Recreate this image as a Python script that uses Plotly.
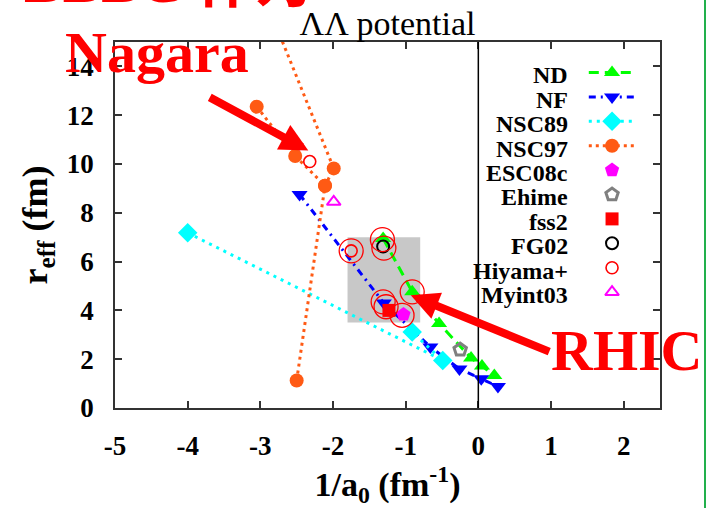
import plotly.graph_objects as go

# ---------------- data ----------------
nd_x = [-1.31, -0.91, -0.54, -0.10, 0.05, 0.22]
nd_y = [6.95, 4.76, 3.46, 2.05, 1.72, 1.33]

nf_x = [-2.46, -1.30, -0.66, -0.26, 0.04, 0.27]
nf_y = [8.75, 4.30, 2.50, 1.60, 1.20, 0.88]

nsc89_x = [-4.00, -0.49, -0.91]
nsc89_y = [7.18, 1.95, 3.11]

nsc97_x = [-2.50, -2.11, -1.99, -2.83, None, -3.05, -2.52, -2.11]
nsc97_y = [1.13, 9.11, 9.82, 16.0, None, 12.35, 10.33, 9.11]

esc08c_x = [-1.03]
esc08c_y = [3.83]
ehime_x = [-0.25]
ehime_y = [2.39]
fss2_x = [-1.23]
fss2_y = [4.00]
fg02_x = [-1.31]
fg02_y = [6.62]
hiyama_x = [-2.32, -1.75]
hiyama_y = [10.10, 6.44]
hiyama_wide_x = [-1.75, -1.32, -1.30, -0.91, -1.31, -1.27, -1.05]
hiyama_wide_y = [6.44, 6.90, 6.55, 4.76, 4.35, 4.15, 3.80]
myint03_x = [-1.99]
myint03_y = [8.45]

box_x = [-1.8, -0.8]
box_y = [3.5, 7.0]

x_ticks = [-5, -4, -3, -2, -1, 0, 1, 2]
x_tick_labels = ["-5", "-4", "-3", "-2", "-1", "0", "1", "2"]
y_ticks = [0, 2, 4, 6, 8, 10, 12, 14]
y_tick_labels = ["0", "2", "4", "6", "8", "10", "12", "14"]

series_names = ["ND", "NF", "NSC89", "NSC97", "ESC08c", "Ehime", "fss2",
                "FG02", "Hiyama+", "Myint03"]

# ---------------- layout constants ----------------
W, H = 707, 508
ML, MR, MT, MB = 115, 47, 42, 100
PW, PH = W - ML - MR, H - MT - MB
SERIF = "Liberation Serif, Times New Roman, serif"


def px_x(px):
    return (px - ML) / PW


def px_y(py):
    return (H - MB - py) / PH


styles = {
    "ND": dict(mode="lines+markers",
               line=dict(color="#00ff00", width=3, dash="10px,6px"),
               marker=dict(symbol="triangle-up", size=14, color="#00ff00")),
    "NF": dict(mode="lines+markers",
               line=dict(color="#0000ff", width=3, dash="7px,5px,2px,5px"),
               marker=dict(symbol="triangle-down", size=14, color="#0000ff")),
    "NSC89": dict(mode="lines+markers",
                  line=dict(color="#00ffff", width=3, dash="3px,5px"),
                  marker=dict(symbol="diamond", size=15, color="#00ffff")),
    "NSC97": dict(mode="lines+markers",
                  line=dict(color="#ff5a14", width=3, dash="3px,4px"),
                  marker=dict(symbol="circle", size=14, color="#ff5a14")),
    "ESC08c": dict(mode="markers",
                   marker=dict(symbol="pentagon", size=15, color="#ff00ff")),
    "Ehime": dict(mode="markers",
                  marker=dict(symbol="pentagon-open", size=13, color="#808080",
                              line=dict(width=3, color="#808080"))),
    "fss2": dict(mode="markers",
                 marker=dict(symbol="square", size=13, color="#ff0000")),
    "FG02": dict(mode="markers",
                 marker=dict(symbol="circle-open", size=12, color="#000000",
                             line=dict(width=2, color="#000000"))),
    "Hiyama+": dict(mode="markers",
                    marker=dict(symbol="circle-open", size=12, color="#ff0000",
                                line=dict(width=1.6, color="#ff0000"))),
    "Myint03": dict(mode="markers",
                    marker=dict(symbol="triangle-up-open", size=12, color="#ff00ff",
                                line=dict(width=2, color="#ff00ff"))),
}

data = {
    "ND": (nd_x, nd_y),
    "NF": (nf_x, nf_y),
    "NSC89": (nsc89_x, nsc89_y),
    "NSC97": (nsc97_x, nsc97_y),
    "ESC08c": (esc08c_x, esc08c_y),
    "Ehime": (ehime_x, ehime_y),
    "fss2": (fss2_x, fss2_y),
    "FG02": (fg02_x, fg02_y),
    "Hiyama+": (hiyama_x, hiyama_y),
    "Myint03": (myint03_x, myint03_y),
}

fig = go.Figure()

for name in series_names:
    xs, ys = data[name]
    fig.add_trace(go.Scatter(x=xs, y=ys, name=name, showlegend=False,
                             connectgaps=False, **styles[name]))
    if name == "Hiyama+":
        fig.add_trace(go.Scatter(
            x=hiyama_wide_x, y=hiyama_wide_y, mode="markers", showlegend=False,
            marker=dict(symbol="circle-open", size=24, color="#ff0000",
                        line=dict(width=1.3, color="#ff0000"))))

# ---------------- custom legend (text left, key right) ----------------
LEG_Y0, LEG_DY = 13.75, 1.0
LEG_TEXT_X = 1.26
LEG_KEY_X = 1.84
LEG_LINE = (1.52, 2.15)
annotations = []
for i, name in enumerate(series_names):
    yy = LEG_Y0 - i * LEG_DY
    st = styles[name]
    if "lines" in st["mode"]:
        fig.add_trace(go.Scatter(x=list(LEG_LINE), y=[yy, yy], mode="lines",
                                 line=st["line"], showlegend=False, hoverinfo="skip"))
    fig.add_trace(go.Scatter(x=[LEG_KEY_X], y=[yy], mode="markers",
                             marker=st["marker"], showlegend=False, hoverinfo="skip"))
    annotations.append(dict(x=LEG_TEXT_X, y=yy - 0.12, xref="x", yref="y",
                            text=name, showarrow=False, xanchor="right",
                            yanchor="middle",
                            font=dict(family=SERIF, size=24, color="black",
                                      weight="bold")))

# ---------------- red overlay texts and arrows ----------------
red_font = dict(family=SERIF, size=58, color="#ff0000", weight="bold")
annotations += [
    dict(x=px_x(63), y=px_y(52), xref="paper", yref="paper", text="Nagara",
         showarrow=False, xanchor="left", yanchor="middle", font=red_font),
    dict(x=px_x(704), y=px_y(350), xref="paper", yref="paper", text="RHIC",
         showarrow=False, xanchor="right", yanchor="middle", font=red_font),
    dict(x=px_x(22), y=px_y(-18), xref="paper", yref="paper", text="BBBC 作为",
         showarrow=False, xanchor="left", yanchor="middle",
         font=dict(family="Liberation Serif, Noto Sans CJK SC, serif", size=58,
                   color="#ff0000", weight="bold")),
    dict(x=-2.34, y=10.55, xref="x", yref="y", text="", showarrow=True,
         ax=-100, ay=-54, arrowcolor="#ff0000", arrowwidth=8, arrowsize=0.7,
         arrowhead=2, standoff=0),
    dict(x=-0.93, y=4.62, xref="x", yref="y", text="", showarrow=True,
         ax=140, ay=57, arrowcolor="#ff0000", arrowwidth=8, arrowsize=0.7,
         arrowhead=2, standoff=0),
]

shapes = [
    dict(type="rect", xref="x", yref="y", x0=box_x[0], x1=box_x[1],
         y0=box_y[0], y1=box_y[1], fillcolor="#c8c8c8", line=dict(width=0),
         layer="below"),
    dict(type="line", xref="x", yref="paper", x0=0, x1=0, y0=0, y1=1,
         line=dict(color="black", width=1.5)),
    dict(type="line", xref="paper", yref="paper", x0=px_x(705), x1=px_x(705),
         y0=-0.5, y1=1.5, line=dict(color="#22b04c", width=2)),
]

axis_common = dict(showgrid=False, zeroline=False, showline=True, mirror="ticks",
                   linecolor="#333333", linewidth=1.5, ticks="inside", ticklen=7,
                   tickwidth=1.5, tickcolor="#333333",
                   tickfont=dict(family=SERIF, size=27, color="black", weight="bold"))

fig.update_layout(
    width=W, height=H,
    margin=dict(l=ML, r=MR, t=MT, b=MB),
    paper_bgcolor="white", plot_bgcolor="white",
    title=dict(text="ΛΛ potential", x=0.5, xref="paper", y=1 - 23 / H,
               yref="container", xanchor="center", yanchor="middle",
               font=dict(family=SERIF, size=34, color="black")),
    xaxis=dict(range=[-5, 2.5], tickvals=x_ticks, ticktext=x_tick_labels,
               ticklabelstandoff=13,
               title=dict(text="1/a<sub>0</sub> (fm<sup>-1</sup>)", standoff=8,
                          font=dict(family=SERIF, size=34, color="black",
                                    weight="bold")),
               **axis_common),
    yaxis=dict(range=[0, 15], tickvals=y_ticks, ticktext=y_tick_labels,
               ticklabelstandoff=14,
               title=dict(text="r<sub>eff</sub> (fm)", standoff=8,
                          font=dict(family=SERIF, size=36, color="black",
                                    weight="bold")),
               **axis_common),
    annotations=annotations,
    shapes=shapes,
)

fig.write_html("out.html")
